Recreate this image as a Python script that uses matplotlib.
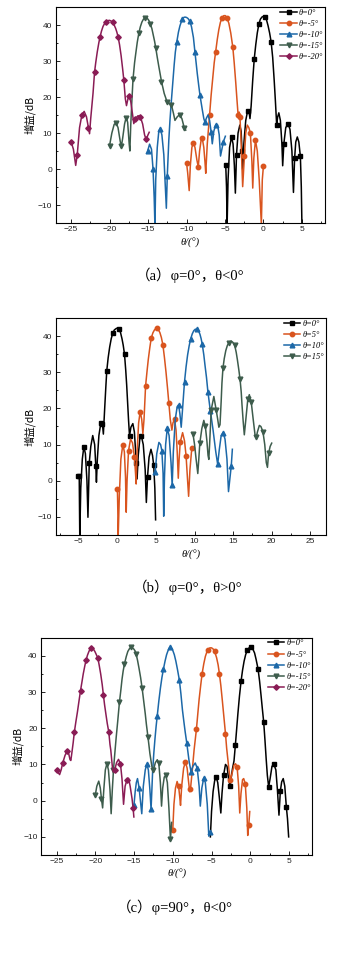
import numpy as np
import matplotlib
matplotlib.use("Agg")
import matplotlib.pyplot as plt
from matplotlib.ticker import MultipleLocator

# ---------------- Panel (a): phi=0, theta<0 ----------------
a0_pts = [(-4.9, 1.0), (-4.8, -5), (-4.72, -15.5), (-4.6, -3), (-4.4, 6), (-4.15, 8.9), (-3.95, 7), (-3.78, 1), (-3.65, -6.7), (-3.5, 4), (-3.3, 10), (-3.07, 12.2), (-2.9, 10.5), (-2.78, 5), (-2.7, -0.1), (-2.55, 7), (-2.3, 13.5), (-2.05, 16.2), (-1.9, 16.3), (-1.75, 14), (-1.6, 17.5), (-1.4, 24.5), (-1.2, 30.5), (-1.0, 34.5), (-0.8, 37.8), (-0.6, 40.2), (-0.4, 41.6), (-0.2, 42.2), (0.0, 42.4), (0.2, 42.3), (0.4, 41.4), (0.6, 39.8), (0.8, 37.8), (1.0, 35.3), (1.2, 31), (1.4, 24.5), (1.55, 19), (1.65, 15), (1.72, 12.2), (1.85, 14.5), (2.0, 15.6), (2.2, 13.5), (2.4, 7), (2.5, 0.9), (2.65, 7), (2.9, 11.5), (3.2, 12.6), (3.45, 11), (3.7, 5), (3.9, -6.5), (4.05, 3), (4.2, 7.5), (4.4, 8.9), (4.6, 7.5), (4.8, 3.5), (4.92, -5), (5.0, -15.5)]
a0_marks = [-4.9, -4.15, -3.5, -2.78, -2.05, -1.2, -0.6, 0.2, 1.0, 1.72, 2.65, 3.2, 4.05, 4.8]

a1_pts = [(-10.0, 1.8), (-9.85, -1), (-9.65, -6), (-9.5, 1), (-9.3, 6), (-9.12, 7.3), (-8.9, 6), (-8.65, 2.5), (-8.47, 0.6), (-8.3, 5), (-8.1, 8), (-7.95, 8.5), (-7.75, 6), (-7.6, 2), (-7.5, -1.2), (-7.3, 7), (-7.0, 15), (-6.8, 20.5), (-6.6, 25), (-6.4, 29.5), (-6.22, 32.4), (-6.0, 36), (-5.8, 38.7), (-5.6, 40.7), (-5.4, 41.9), (-5.15, 42.6), (-4.95, 42.6), (-4.75, 42), (-4.5, 40.5), (-4.25, 37.8), (-3.98, 33.8), (-3.8, 29.5), (-3.6, 24), (-3.45, 19.5), (-3.29, 14.9), (-3.15, 15.8), (-3.05, 14.5), (-2.9, 7), (-2.7, -4.9), (-2.47, 3.7), (-2.3, 10), (-2.1, 12.2), (-1.9, 11.5), (-1.7, 10), (-1.5, 2), (-1.39, -5.3), (-1.25, 3), (-1.04, 8.0), (-0.8, 5), (-0.55, -3), (-0.27, -15.5), (-0.15, -3), (0.0, 0.9)]
a1_marks = [-10.0, -9.12, -8.47, -7.95, -7.0, -6.22, -5.4, -4.75, -3.98, -3.29, -3.05, -2.47, -1.7, -1.04, 0.0]

a2_pts = [(-15.05, 5.0), (-14.8, 6.9), (-14.55, 5.5), (-14.35, 0), (-14.2, -8), (-14.1, -16), (-14.0, -3), (-13.8, 6), (-13.6, 10.5), (-13.43, 11.2), (-13.2, 9.5), (-12.95, 4), (-12.75, -5), (-12.62, -10.9), (-12.5, -2), (-12.4, 3), (-12.3, 8), (-12.15, 13.5), (-12.0, 18), (-11.8, 23.5), (-11.6, 29), (-11.45, 32.5), (-11.27, 35.2), (-11.05, 38), (-10.85, 39.8), (-10.54, 41.7), (-10.35, 42.1), (-10.2, 42.2), (-10.0, 42.1), (-9.8, 41.8), (-9.55, 41.0), (-9.35, 39.5), (-9.1, 36.5), (-8.9, 32.4), (-8.75, 29.5), (-8.6, 26.5), (-8.4, 23), (-8.25, 20.5), (-7.95, 16.5), (-7.75, 14), (-7.6, 13.0), (-7.4, 14.2), (-7.2, 15), (-7.0, 13.5), (-6.8, 10.3), (-6.65, 7.0), (-6.45, 10.5), (-6.2, 12.3), (-5.97, 12.3), (-5.75, 9.5), (-5.58, 3.6), (-5.4, 5.5), (-5.2, 7.6), (-4.95, 9.1)]
a2_marks = [-15.05, -14.35, -13.43, -12.5, -11.27, -10.54, -9.55, -8.9, -8.25, -7.6, -6.8, -6.2, -5.2]

a3_pts = [(-20.0, 6.5), (-19.7, 10), (-19.4, 12.4), (-19.15, 12.8), (-18.9, 11.5), (-18.6, 7.5), (-18.45, 6.5), (-18.3, 8.5), (-18.05, 12.5), (-17.85, 14.3), (-17.65, 13), (-17.45, 7), (-17.36, 5.0), (-17.25, 12), (-17.1, 19), (-16.95, 25), (-16.75, 29.5), (-16.6, 32), (-16.4, 35.2), (-16.2, 37.7), (-16.0, 39.5), (-15.8, 40.8), (-15.6, 41.6), (-15.4, 42), (-15.2, 42), (-15.0, 41.6), (-14.85, 41.1), (-14.7, 40.3), (-14.5, 39), (-14.35, 37.5), (-14.15, 35.5), (-14.0, 33.7), (-13.8, 31), (-13.6, 28.5), (-13.25, 24.3), (-12.9, 21), (-12.5, 18.5), (-12.2, 18.2), (-11.95, 17.7), (-11.7, 15.5), (-11.5, 13.5), (-11.2, 14.5), (-10.9, 15.1), (-10.6, 14), (-10.3, 11.5), (-10.1, 10.8)]
a3_marks = [-20.0, -19.15, -18.45, -17.85, -16.95, -16.2, -15.4, -14.7, -14.0, -13.25, -12.5, -11.95, -10.9, -10.3]

a4_pts = [(-25.0, 7.6), (-24.7, 5.5), (-24.4, 1.0), (-24.2, 4.0), (-23.9, 11.5), (-23.6, 15.0), (-23.3, 16.0), (-23.0, 14.5), (-22.75, 11.5), (-22.6, 9.8), (-22.45, 14), (-22.3, 17.5), (-22.15, 21), (-21.95, 26.9), (-21.8, 29.5), (-21.6, 32.5), (-21.4, 35), (-21.25, 36.6), (-21.05, 38.3), (-20.85, 39.6), (-20.65, 40.4), (-20.47, 40.9), (-20.25, 41.2), (-20.0, 41.3), (-19.8, 41.1), (-19.6, 40.8), (-19.4, 40.0), (-19.2, 39), (-19.05, 38), (-18.9, 36.8), (-18.7, 34.5), (-18.5, 31.5), (-18.3, 27.8), (-18.15, 24.8), (-17.95, 19.5), (-17.8, 17.6), (-17.6, 19.6), (-17.45, 20.2), (-17.25, 18.8), (-17.0, 15), (-16.85, 12.6), (-16.65, 14.0), (-16.3, 14.8), (-16.0, 14.5), (-15.7, 12.5), (-15.45, 9.5), (-15.25, 8.2), (-15.0, 9.5), (-14.85, 10.2)]
a4_marks = [-25.0, -24.2, -23.6, -22.75, -21.95, -21.25, -20.47, -19.6, -18.9, -18.15, -17.45, -16.65, -16.0, -15.25]

a_labels = ["θ=0°", "θ=-5°", "θ=-10°", "θ=-15°", "θ=-20°"]

# ---------------- Panel (b): phi=0, theta>0 ----------------
b0_pts = [(-5.15, 1.2), (-4.95, 1.2), (-4.88, -15.5), (-4.75, -2), (-4.55, 6), (-4.35, 9.4), (-4.15, 7.5), (-3.95, 0), (-3.82, -10.1), (-3.65, 5), (-3.45, 9.5), (-3.2, 12.5), (-2.95, 10), (-2.8, 4), (-2.72, -0.4), (-2.6, 6), (-2.4, 12.5), (-2.15, 16), (-1.95, 15.8), (-1.82, 12.9), (-1.65, 20), (-1.5, 26), (-1.38, 30.4), (-1.2, 34), (-1.0, 37), (-0.8, 39.3), (-0.6, 40.8), (-0.4, 41.7), (-0.15, 42.1), (0.0, 42.2), (0.2, 42.0), (0.4, 41), (0.6, 39.2), (0.75, 37.5), (0.92, 35.0), (1.08, 30.5), (1.2, 26.5), (1.35, 20.5), (1.45, 16.5), (1.57, 12.4), (1.75, 14.8), (2.0, 15.8), (2.2, 13.5), (2.45, 5), (2.55, 0.5), (2.7, 7), (2.9, 11.5), (3.1, 12.4), (3.35, 10), (3.6, 3), (3.75, -6), (3.9, 1), (4.1, 6.5), (4.35, 8.7), (4.55, 7), (4.7, 4.4), (4.85, -2), (4.95, -10.8)]
b0_marks = [-5.15, -4.95, -4.35, -3.65, -2.8, -2.15, -1.95, -1.38, -0.6, 0.2, 0.92, 1.57, 2.45, 3.1, 3.9, 4.7]

b1_pts = [(0.0, -2.3), (0.05, -8), (0.1, -15.5), (0.25, -4), (0.45, 6), (0.7, 10.0), (0.9, 8), (1.05, 1), (1.14, -8.7), (1.25, 0), (1.44, 8.3), (1.7, 11.5), (1.95, 10.5), (2.2, 6.7), (2.35, 2), (2.43, -0.9), (2.55, 8), (2.75, 16), (2.95, 19.1), (3.15, 17), (3.3, 13), (3.45, 17), (3.65, 26.2), (3.85, 30.5), (4.0, 33.5), (4.2, 36.8), (4.38, 39.4), (4.6, 40.9), (4.8, 41.7), (5.0, 42.1), (5.16, 42.1), (5.35, 41.6), (5.5, 41), (5.7, 39.6), (5.9, 37.5), (6.1, 34), (6.3, 30), (6.5, 25.5), (6.67, 21.4), (6.85, 17), (7.06, 14), (7.2, 16), (7.4, 17), (7.6, 14), (7.75, 8), (7.89, 0.7), (8.0, 6), (8.14, 10.6), (8.45, 13.3), (8.7, 11), (8.9, 6.9), (9.1, 0), (9.23, -4.3), (9.4, 3), (9.6, 8), (9.7, 9.0)]
b1_marks = [0.0, 0.7, 1.44, 2.2, 2.95, 3.65, 4.38, 5.16, 5.9, 6.67, 7.4, 8.14, 8.9, 9.7]

b2_pts = [(4.9, 2.4), (5.1, 7.5), (5.38, 10.6), (5.6, 10), (5.76, 8.3), (5.92, 2), (6.0, -9.8), (6.1, 1), (6.25, 10), (6.46, 14.5), (6.7, 12.5), (6.95, 5), (7.1, -1.3), (7.25, 8), (7.5, 17), (7.75, 20.5), (7.93, 21), (8.1, 18.5), (8.27, 14.8), (8.45, 20), (8.6, 24.5), (8.7, 27.4), (8.9, 31.5), (9.1, 34.8), (9.3, 37.3), (9.48, 39.1), (9.7, 40.6), (9.9, 41.5), (10.1, 41.9), (10.3, 41.9), (10.5, 41.5), (10.7, 40.5), (10.85, 39.3), (11.0, 37.7), (11.2, 34.8), (11.35, 32), (11.55, 28.5), (11.73, 24.6), (12.05, 19.3), (12.4, 14), (12.75, 8), (13.0, 4.5), (13.2, 8.5), (13.45, 12.5), (13.7, 13.3), (13.95, 11.5), (14.2, 6), (14.4, -3), (14.55, 0), (14.76, 4.2), (14.9, 8.7)]
b2_marks = [4.9, 5.76, 6.46, 7.1, 7.93, 8.7, 9.48, 10.3, 11.0, 11.73, 12.05, 13.0, 13.7, 14.76]

b3_pts = [(9.8, 12.9), (10.0, 10), (10.2, 6), (10.42, 2.0), (10.55, 6), (10.68, 10.4), (10.95, 14.5), (11.2, 16.7), (11.4, 15.0), (11.6, 11), (11.75, 7), (11.85, 5.9), (11.95, 10), (12.16, 19.6), (12.5, 23.3), (12.8, 19.6), (13.0, 17), (13.15, 14.8), (13.3, 15.5), (13.45, 22), (13.55, 27), (13.68, 31.1), (13.85, 33.8), (14.05, 36), (14.25, 37.4), (14.45, 38.2), (14.6, 38.5), (14.75, 38.6), (14.95, 38.3), (15.2, 37.5), (15.4, 35.5), (15.55, 33.5), (15.75, 30.5), (15.9, 28.0), (16.05, 24.5), (16.15, 21), (16.3, 16.5), (16.45, 12.7), (16.65, 17), (16.9, 22.5), (17.1, 23.8), (17.35, 21.7), (17.6, 17), (17.85, 12.5), (18.0, 12.0), (18.15, 13.5), (18.4, 15.3), (18.6, 15), (18.86, 13.6), (19.1, 10), (19.3, 5), (19.45, 3.7), (19.6, 7.6), (19.8, 9.5), (20.0, 10.4)]
b3_marks = [9.8, 10.68, 11.4, 12.16, 12.8, 13.68, 14.45, 15.2, 15.9, 16.9, 17.35, 18.0, 18.86, 19.6]

b_labels = ["θ=0°", "θ=5°", "θ=10°", "θ=15°"]

# ---------------- Panel (c): phi=90, theta<0 ----------------
c0_pts = [(-5.15, -10), (-5.0, -3), (-4.8, 2.5), (-4.6, 5.5), (-4.4, 6.5), (-4.2, 5), (-4.0, 1), (-3.8, -3.4), (-3.65, 2), (-3.45, 7), (-3.2, 10), (-3.0, 9.5), (-2.8, 6), (-2.6, 4), (-2.45, 6.5), (-2.3, 8.8), (-2.1, 11), (-1.92, 15.5), (-1.75, 20), (-1.6, 24), (-1.4, 28.8), (-1.19, 33), (-1.0, 36), (-0.8, 38.5), (-0.6, 40.3), (-0.4, 41.5), (-0.15, 42.2), (0.1, 42.4), (0.3, 42), (0.55, 40.8), (0.75, 39), (1.0, 36.4), (1.2, 33), (1.4, 28.8), (1.55, 25.5), (1.73, 21.7), (1.9, 16.5), (2.05, 11.5), (2.2, 7), (2.37, 3.8), (2.55, 6), (2.8, 9.5), (3.05, 10.0), (3.3, 8.5), (3.5, 3), (3.7, -4.0), (3.88, 2.7), (4.05, 5.2), (4.25, 6.1), (4.45, 4), (4.65, -1.7), (4.8, -5), (4.95, -10)]
c0_marks = [-4.4, -3.45, -2.6, -1.92, -1.19, -0.4, 0.1, 1.0, 1.73, 2.37, 3.05, 3.88, 4.65]

c1_pts = [(-10.0, -8.0), (-9.85, -1), (-9.65, 3.5), (-9.44, 5.3), (-9.25, 4), (-9.1, 1), (-9.0, -1.3), (-8.85, 4), (-8.6, 9), (-8.37, 10.7), (-8.15, 9), (-7.95, 5), (-7.82, 2.5), (-7.72, 3.1), (-7.5, 8), (-7.25, 14), (-6.95, 19.7), (-6.75, 24.5), (-6.6, 28), (-6.4, 31.8), (-6.22, 35.0), (-6.0, 37.8), (-5.8, 39.8), (-5.6, 41.1), (-5.45, 41.7), (-5.2, 42.2), (-5.0, 42.2), (-4.8, 41.9), (-4.6, 41.2), (-4.35, 39.5), (-4.15, 37.5), (-3.98, 35.0), (-3.8, 31.8), (-3.6, 27.5), (-3.4, 23), (-3.2, 18.5), (-3.05, 14.5), (-2.9, 11.5), (-2.75, 8.5), (-2.57, 5.6), (-2.35, 7.5), (-2.1, 9.8), (-1.9, 10.2), (-1.7, 9.3), (-1.5, 4), (-1.36, -3.4), (-1.2, 2), (-1.0, 5.8), (-0.85, 6.1), (-0.65, 4.7), (-0.45, -2), (-0.33, -9.6), (-0.2, -6.8), (-0.07, -3)]
c1_marks = [-10.0, -9.25, -8.37, -7.72, -6.95, -6.22, -5.45, -4.6, -3.98, -3.2, -2.57, -1.7, -0.65, -0.2]

c2_pts = [(-15.0, -1.1), (-14.85, 2.5), (-14.7, 5.0), (-14.55, 6.1), (-14.35, 3.6), (-14.15, -0.5), (-14.0, -3.6), (-13.8, 4), (-13.55, 8.5), (-13.35, 10.0), (-13.15, 8.5), (-12.95, 3), (-12.8, -2.4), (-12.6, 8), (-12.45, 13), (-12.3, 17), (-12.15, 20.5), (-12.0, 23.5), (-11.8, 27.5), (-11.6, 31), (-11.4, 34), (-11.2, 36.4), (-11.0, 38.5), (-10.8, 40.3), (-10.6, 41.5), (-10.4, 42.3), (-10.2, 42.2), (-10.0, 41.5), (-9.8, 40.3), (-9.6, 38.5), (-9.4, 36.3), (-9.15, 33.3), (-8.95, 29.5), (-8.75, 25), (-8.55, 21.5), (-8.4, 19), (-8.2, 16), (-8.05, 13.5), (-7.9, 11), (-7.65, 8.0), (-7.4, 9.5), (-7.1, 10.4), (-6.85, 9.0), (-6.6, 4), (-6.45, -1.5), (-6.25, 3.5), (-6.0, 6.3), (-5.8, 5), (-5.55, -1), (-5.35, -9.8), (-5.2, -8.6)]
c2_marks = [-15.0, -14.35, -13.35, -12.8, -12.0, -11.2, -10.4, -9.15, -8.2, -7.65, -6.85, -6.0, -5.2]

c3_pts = [(-20.0, 1.5), (-19.8, 4), (-19.55, 5.4), (-19.35, 3.5), (-19.2, 0.5), (-19.05, -2), (-18.9, 3), (-18.7, 8.5), (-18.5, 10.2), (-18.3, 8.5), (-18.1, 3), (-17.95, -3.6), (-17.8, 3), (-17.65, 8.5), (-17.5, 12.5), (-17.3, 17.5), (-17.1, 22), (-16.88, 27.2), (-16.7, 30.5), (-16.55, 33.5), (-16.4, 35.8), (-16.23, 37.8), (-16.0, 39.8), (-15.8, 41.2), (-15.55, 42.1), (-15.35, 42.3), (-15.15, 42.1), (-15.0, 41.8), (-14.85, 41.3), (-14.73, 40.5), (-14.55, 38.8), (-14.35, 36.5), (-14.15, 34), (-13.95, 31), (-13.75, 27.5), (-13.55, 24), (-13.4, 21), (-13.2, 17.6), (-12.95, 13), (-12.7, 9.5), (-12.5, 8.4), (-12.25, 10.5), (-12.0, 11.3), (-11.8, 10.3), (-11.6, 5), (-11.45, -1.5), (-11.3, 3.5), (-11.1, 6.5), (-10.9, 7.0), (-10.7, 5), (-10.5, -2), (-10.3, -10.7), (-10.15, -6)]
c3_marks = [-20.0, -19.2, -18.5, -17.65, -16.88, -16.23, -15.35, -14.73, -13.95, -13.2, -12.5, -11.8, -10.9, -10.3]

c4_pts = [(-25.0, 8.6), (-24.8, 7.8), (-24.6, 7.2), (-24.4, 8.5), (-24.2, 10.4), (-23.9, 12.5), (-23.65, 13.6), (-23.45, 13.2), (-23.25, 11.3), (-23.15, 11.1), (-23.0, 13.5), (-22.85, 16), (-22.7, 18.9), (-22.5, 21.8), (-22.3, 24.5), (-22.1, 27.5), (-21.9, 30.4), (-21.7, 33), (-21.55, 35), (-21.35, 37.2), (-21.18, 38.9), (-21.0, 40.2), (-20.8, 41.3), (-20.65, 41.8), (-20.5, 42.1), (-20.35, 42.1), (-20.2, 41.7), (-20.05, 41.2), (-19.9, 40.5), (-19.67, 39.4), (-19.5, 37.5), (-19.3, 35), (-19.1, 32), (-18.95, 29.2), (-18.8, 26.5), (-18.6, 23.5), (-18.45, 21.3), (-18.25, 18.9), (-18.1, 15.5), (-18.0, 14), (-17.8, 9.5), (-17.65, 7.9), (-17.48, 8.6), (-17.25, 10.5), (-17.0, 11.4), (-16.75, 10.2), (-16.55, 6), (-16.35, -1), (-16.15, 4), (-15.9, 5.8), (-15.7, 6.2), (-15.5, 4), (-15.25, 0.5), (-15.12, -2), (-15.02, -4.5)]
c4_marks = [-25.0, -24.2, -23.65, -22.7, -21.9, -21.18, -20.5, -19.67, -18.95, -18.25, -17.48, -16.75, -15.9, -15.12]

c_labels = ["θ=0°", "θ=-5°", "θ=-10°", "θ=-15°", "θ=-20°"]

y_ticks = [-10, 0, 10, 20, 30, 40]

# ---------------- styling ----------------
COLORS = ["#000000", "#D9541E", "#1C68A8", "#3D5C4C", "#8A1C55"]
MARKERS = ["s", "o", "^", "v", "D"]
MSIZE = [3.0, 3.2, 3.4, 3.4, 2.8]

W, H = 347, 967
fig = plt.figure(figsize=(W / 100, H / 100), dpi=100)

CJK = ["Noto Sans CJK SC", "DejaVu Sans"]
SERIF = ["Liberation Serif", "Noto Sans CJK SC", "DejaVu Sans"]


def px_rect(left, top, right, bottom):
    return [left / W, 1 - bottom / H, (right - left) / W, (bottom - top) / H]


def split(pts):
    th = [p[0] for p in pts]
    g = [p[1] for p in pts]
    return th, g


def panel(rect, series, labels, xlim, xticks, ylabel_x, caption, cap_xy, xlabel_y):
    ax = fig.add_axes(px_rect(*rect))
    for i, (pts, mk) in enumerate(series):
        th, g = split(pts)
        tha = np.asarray(th)
        idx = sorted({int(np.argmin(np.abs(tha - m))) for m in mk})
        ax.plot(th, g, color=COLORS[i], lw=1.1, marker=MARKERS[i],
                ms=MSIZE[i], markevery=idx, label=labels[i],
                solid_joinstyle="round")
    ax.set_xlim(*xlim)
    ax.set_ylim(-15, 45)
    ax.set_xticks(xticks)
    ax.set_yticks(y_ticks)
    ax.xaxis.set_minor_locator(MultipleLocator(2.5))
    ax.yaxis.set_minor_locator(MultipleLocator(5))
    ax.tick_params(which="both", direction="in", top=False, right=False,
                   width=0.6, pad=2.5)
    ax.tick_params(which="major", length=3)
    ax.tick_params(which="minor", length=1.6)
    for lab in ax.get_xticklabels() + ax.get_yticklabels():
        lab.set_fontfamily("Liberation Sans")
        lab.set_fontsize(6)
        lab.set_color("#222222")
    for sp in ax.spines.values():
        sp.set_linewidth(0.8)
    ax.legend(loc="upper right", bbox_to_anchor=(1.0, 1.0),
              frameon=False, borderaxespad=0.0, borderpad=0.2,
              handlelength=2.0, handletextpad=0.25, labelspacing=0.38,
              prop={"family": SERIF, "style": "italic", "size": 6})
    l, t, r, b = rect
    fig.text(ylabel_x / W, 1 - ((t + b) / 2) / H, "增益/dB", rotation=90,
             ha="center", va="center", family=CJK, fontsize=7.5)
    fig.text(((l + r) / 2) / W, 1 - xlabel_y / H, "θ/(°)", ha="center",
             va="center", family=SERIF, style="italic", fontsize=7.5)
    fig.text(cap_xy[0] / W, 1 - cap_xy[1] / H, caption, ha="center",
             va="center", family=SERIF, fontsize=10.5)
    return ax


panel((55.7, 7, 325, 223),
      [(a0_pts, a0_marks), (a1_pts, a1_marks), (a2_pts, a2_marks),
       (a3_pts, a3_marks), (a4_pts, a4_marks)],
      a_labels, (-27, 8), [-25, -20, -15, -10, -5, 0, 5], 30,
      "（a）φ=0°，θ<0°", (190, 275), 243)

panel((55.7, 318, 325.7, 535),
      [(b0_pts, b0_marks), (b1_pts, b1_marks), (b2_pts, b2_marks),
       (b3_pts, b3_marks)],
      b_labels, (-8, 27), [-5, 0, 5, 10, 15, 20, 25], 30,
      "（b）φ=0°，θ>0°", (188, 587), 555)

panel((41, 637.7, 312.3, 855),
      [(c0_pts, c0_marks), (c1_pts, c1_marks), (c2_pts, c2_marks),
       (c3_pts, c3_marks), (c4_pts, c4_marks)],
      c_labels, (-27, 8), [-25, -20, -15, -10, -5, 0, 5], 18,
      "（c）φ=90°，θ<0°", (175, 907), 874)

fig.savefig("out.png", dpi=100)
